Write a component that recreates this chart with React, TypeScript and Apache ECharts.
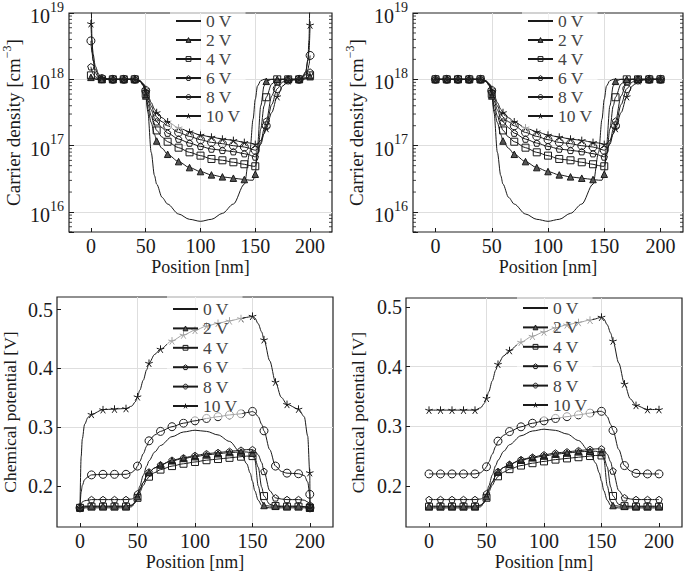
import React, { useEffect, useRef } from 'react';
import * as echarts from 'echarts';

const VOLTAGES = ['0 V', '2 V', '4 V', '6 V', '8 V', '10 V'];
const X_TICKS = [0, 50, 100, 150, 200];
const POT_TICKS = [0.2, 0.3, 0.4, 0.5];

// ---- Top-left: carrier density, log10 of cm^-3 ----
const TL_X = [0, 1, 2, 4, 7, 10, 20, 30, 40, 45, 48, 50, 52, 55, 58, 60, 65, 70, 80, 90, 100, 110, 120, 130, 140, 145, 148, 150, 152, 155, 158, 160, 165, 170, 175, 180, 190, 193, 196, 198, 199, 200];
const TL_0V = [19.6, 18.6, 18.3, 18.1, 18.03, 18.0, 18.0, 18.0, 18.0, 17.98, 17.93, 17.8, 17.5, 16.9, 16.55, 16.42, 16.22, 16.12, 15.97, 15.89, 15.86, 15.89, 15.98, 16.12, 16.42, 16.9, 17.4, 17.7, 17.9, 17.98, 18.0, 18.0, 18.0, 18.0, 18.0, 18.0, 18.0, 18.03, 18.1, 18.3, 18.6, 19.6];
const TL_2V = [18.03, 18.02, 18.01, 18.0, 18.0, 18.0, 18.0, 18.0, 18.0, 17.97, 17.9, 17.75, 17.55, 17.35, 17.17, 17.07, 16.96, 16.87, 16.76, 16.67, 16.61, 16.56, 16.53, 16.51, 16.49, 16.48, 16.48, 16.57, 17.0, 17.6, 17.9, 17.97, 18.0, 18.0, 18.0, 18.0, 18.0, 18.0, 18.01, 18.02, 18.03, 18.04];
const TL_4V = [18.06, 18.04, 18.02, 18.01, 18.0, 18.0, 18.0, 18.0, 18.0, 17.97, 17.9, 17.78, 17.62, 17.45, 17.3, 17.23, 17.13, 17.06, 16.97, 16.9, 16.85, 16.8, 16.78, 16.75, 16.72, 16.7, 16.69, 16.69, 16.85, 17.25, 17.6, 17.73, 17.93, 18.0, 18.0, 18.0, 18.0, 18.0, 18.01, 18.03, 18.04, 18.06];
const TL_6V = [18.19, 18.12, 18.08, 18.04, 18.01, 18.0, 18.0, 18.0, 18.0, 17.97, 17.91, 17.8, 17.68, 17.54, 17.42, 17.36, 17.27, 17.19, 17.1, 17.04, 16.99, 16.95, 16.93, 16.91, 16.88, 16.86, 16.84, 16.83, 16.88, 17.05, 17.25, 17.37, 17.75, 17.96, 18.0, 18.0, 18.0, 18.01, 18.03, 18.06, 18.09, 18.11];
const TL_8V = [18.58, 18.4, 18.28, 18.15, 18.06, 18.01, 18.0, 18.0, 18.0, 17.97, 17.92, 17.83, 17.73, 17.6, 17.49, 17.43, 17.36, 17.3, 17.2, 17.14, 17.09, 17.05, 17.03, 17.0, 16.98, 16.96, 16.94, 16.93, 16.95, 17.02, 17.18, 17.3, 17.62, 17.86, 17.96, 17.99, 18.0, 18.02, 18.07, 18.15, 18.22, 18.36];
const TL_10V = [18.84, 18.55, 18.38, 18.2, 18.08, 18.02, 18.0, 18.0, 18.0, 17.97, 17.93, 17.85, 17.77, 17.65, 17.55, 17.5, 17.42, 17.36, 17.27, 17.21, 17.16, 17.13, 17.1, 17.08, 17.05, 17.04, 17.03, 17.02, 17.03, 17.08, 17.18, 17.26, 17.5, 17.74, 17.9, 17.98, 18.0, 18.04, 18.12, 18.28, 18.42, 18.82];

// ---- Top-right: carrier density, log10 of cm^-3 ----
const TR_X = [0, 10, 20, 30, 40, 45, 48, 50, 52, 55, 58, 60, 65, 70, 80, 90, 100, 110, 120, 130, 140, 145, 148, 150, 152, 155, 158, 160, 165, 170, 175, 180, 190, 200];
const TR_0V = [18.0, 18.0, 18.0, 18.0, 18.0, 17.98, 17.93, 17.8, 17.5, 16.9, 16.55, 16.42, 16.22, 16.12, 15.97, 15.89, 15.86, 15.89, 15.98, 16.12, 16.42, 16.9, 17.4, 17.7, 17.9, 17.98, 18.0, 18.0, 18.0, 18.0, 18.0, 18.0, 18.0, 18.0];
const TR_2V = [18.0, 18.0, 18.0, 18.0, 18.0, 17.97, 17.9, 17.75, 17.55, 17.35, 17.17, 17.07, 16.96, 16.87, 16.76, 16.67, 16.61, 16.56, 16.53, 16.51, 16.49, 16.48, 16.48, 16.57, 17.0, 17.6, 17.9, 17.97, 18.0, 18.0, 18.0, 18.0, 18.0, 18.0];
const TR_4V = [18.0, 18.0, 18.0, 18.0, 18.0, 17.97, 17.9, 17.78, 17.62, 17.45, 17.3, 17.23, 17.13, 17.06, 16.97, 16.9, 16.85, 16.8, 16.78, 16.75, 16.72, 16.7, 16.69, 16.69, 16.85, 17.25, 17.6, 17.73, 17.93, 18.0, 18.0, 18.0, 18.0, 18.0];
const TR_6V = [18.0, 18.0, 18.0, 18.0, 18.0, 17.97, 17.91, 17.8, 17.68, 17.54, 17.42, 17.36, 17.27, 17.19, 17.1, 17.04, 16.99, 16.95, 16.93, 16.91, 16.88, 16.86, 16.84, 16.83, 16.88, 17.05, 17.25, 17.37, 17.75, 17.96, 18.0, 18.0, 18.0, 18.0];
const TR_8V = [18.0, 18.0, 18.0, 18.0, 18.0, 17.97, 17.92, 17.83, 17.73, 17.6, 17.49, 17.43, 17.36, 17.3, 17.2, 17.14, 17.09, 17.05, 17.03, 17.0, 16.98, 16.96, 16.94, 16.93, 16.95, 17.02, 17.18, 17.3, 17.62, 17.86, 17.96, 17.99, 18.0, 18.0];
const TR_10V = [18.0, 18.0, 18.0, 18.0, 18.0, 17.97, 17.93, 17.85, 17.77, 17.65, 17.55, 17.5, 17.42, 17.36, 17.27, 17.21, 17.16, 17.13, 17.1, 17.08, 17.05, 17.04, 17.03, 17.02, 17.03, 17.08, 17.18, 17.26, 17.5, 17.74, 17.9, 17.98, 18.0, 18.0];

// ---- Bottom-left: chemical potential [V] ----
const BL_X = [0, 1, 2, 4, 7, 10, 20, 30, 40, 45, 48, 50, 52, 55, 58, 60, 65, 70, 80, 90, 100, 110, 120, 130, 140, 145, 148, 150, 152, 155, 158, 160, 165, 170, 175, 180, 190, 195, 198, 199.8, 200];
const BL_0V = [0.163, 0.163, 0.163, 0.163, 0.163, 0.163, 0.163, 0.163, 0.163, 0.165, 0.172, 0.185, 0.2, 0.218, 0.234, 0.243, 0.258, 0.269, 0.284, 0.292, 0.295, 0.293, 0.287, 0.276, 0.256, 0.238, 0.222, 0.208, 0.192, 0.176, 0.167, 0.164, 0.163, 0.163, 0.163, 0.163, 0.163, 0.163, 0.163, 0.163, 0.163];
const BL_2V = [0.163, 0.164, 0.165, 0.166, 0.166, 0.166, 0.166, 0.166, 0.166, 0.168, 0.173, 0.182, 0.193, 0.206, 0.217, 0.223, 0.231, 0.236, 0.243, 0.247, 0.25, 0.253, 0.255, 0.257, 0.258, 0.258, 0.257, 0.256, 0.245, 0.2, 0.174, 0.167, 0.166, 0.166, 0.166, 0.166, 0.166, 0.165, 0.164, 0.163, 0.163];
const BL_4V = [0.163, 0.164, 0.164, 0.165, 0.165, 0.165, 0.165, 0.165, 0.165, 0.167, 0.172, 0.18, 0.19, 0.201, 0.211, 0.216, 0.223, 0.228, 0.234, 0.238, 0.241, 0.244, 0.246, 0.248, 0.25, 0.251, 0.251, 0.251, 0.248, 0.232, 0.198, 0.183, 0.169, 0.166, 0.165, 0.165, 0.165, 0.165, 0.164, 0.163, 0.163];
const BL_6V = [0.163, 0.17, 0.173, 0.175, 0.176, 0.177, 0.177, 0.177, 0.177, 0.178, 0.181, 0.187, 0.195, 0.206, 0.217, 0.224, 0.231, 0.236, 0.244, 0.248, 0.252, 0.255, 0.257, 0.259, 0.261, 0.262, 0.262, 0.262, 0.26, 0.253, 0.24, 0.225, 0.192, 0.18, 0.178, 0.177, 0.177, 0.176, 0.173, 0.168, 0.163];
const BL_8V = [0.163, 0.19, 0.201, 0.211, 0.216, 0.219, 0.22, 0.22, 0.22, 0.223, 0.228, 0.234, 0.242, 0.255, 0.268, 0.277, 0.287, 0.293, 0.301, 0.307, 0.311, 0.315, 0.318, 0.321, 0.323, 0.325, 0.326, 0.327, 0.325, 0.318, 0.305, 0.294, 0.262, 0.234, 0.225, 0.222, 0.221, 0.218, 0.207, 0.186, 0.163];
const BL_10V = [0.163, 0.25, 0.28, 0.305, 0.317, 0.322, 0.33, 0.331, 0.332, 0.336, 0.343, 0.352, 0.363, 0.38, 0.398, 0.409, 0.424, 0.433, 0.447, 0.457, 0.465, 0.472, 0.477, 0.481, 0.485, 0.487, 0.488, 0.489, 0.486, 0.476, 0.462, 0.449, 0.413, 0.377, 0.351, 0.339, 0.331, 0.318, 0.285, 0.223, 0.163];

// ---- Bottom-right: chemical potential [V] ----
const BR_X = [0, 10, 20, 30, 40, 45, 48, 50, 52, 55, 58, 60, 65, 70, 80, 90, 100, 110, 120, 130, 140, 145, 148, 150, 152, 155, 158, 160, 165, 170, 175, 180, 190, 200];
const BR_0V = [0.163, 0.163, 0.163, 0.163, 0.163, 0.165, 0.172, 0.185, 0.2, 0.218, 0.234, 0.243, 0.258, 0.269, 0.284, 0.292, 0.295, 0.293, 0.287, 0.276, 0.256, 0.238, 0.222, 0.208, 0.192, 0.176, 0.167, 0.164, 0.163, 0.163, 0.163, 0.163, 0.163, 0.163];
const BR_2V = [0.166, 0.166, 0.166, 0.166, 0.166, 0.168, 0.173, 0.182, 0.193, 0.206, 0.217, 0.223, 0.231, 0.236, 0.243, 0.247, 0.25, 0.253, 0.255, 0.257, 0.258, 0.258, 0.257, 0.256, 0.245, 0.2, 0.174, 0.167, 0.166, 0.166, 0.166, 0.166, 0.166, 0.166];
const BR_4V = [0.165, 0.165, 0.165, 0.165, 0.165, 0.167, 0.172, 0.18, 0.19, 0.201, 0.211, 0.216, 0.223, 0.228, 0.234, 0.238, 0.241, 0.244, 0.246, 0.248, 0.25, 0.251, 0.251, 0.251, 0.248, 0.232, 0.198, 0.183, 0.169, 0.166, 0.165, 0.165, 0.165, 0.165];
const BR_6V = [0.177, 0.177, 0.177, 0.177, 0.177, 0.178, 0.181, 0.187, 0.195, 0.206, 0.217, 0.224, 0.231, 0.236, 0.244, 0.248, 0.252, 0.255, 0.257, 0.259, 0.261, 0.262, 0.262, 0.262, 0.26, 0.253, 0.24, 0.225, 0.192, 0.18, 0.178, 0.177, 0.177, 0.177];
const BR_8V = [0.22, 0.22, 0.22, 0.22, 0.22, 0.222, 0.227, 0.232, 0.24, 0.253, 0.266, 0.275, 0.285, 0.291, 0.299, 0.305, 0.309, 0.313, 0.316, 0.319, 0.322, 0.324, 0.325, 0.325, 0.323, 0.316, 0.303, 0.293, 0.261, 0.234, 0.225, 0.221, 0.22, 0.22];
const BR_10V = [0.327, 0.327, 0.327, 0.327, 0.327, 0.331, 0.338, 0.347, 0.358, 0.376, 0.394, 0.404, 0.418, 0.427, 0.441, 0.451, 0.458, 0.465, 0.47, 0.474, 0.478, 0.48, 0.482, 0.483, 0.48, 0.47, 0.456, 0.443, 0.406, 0.371, 0.346, 0.335, 0.328, 0.328];

const FONT = 'Liberation Serif';
const INK = '#1a1a1a';
const CLEAR = 'rgba(0,0,0,0)';
const PENTAGON = 'path://M0,-10L9.51,-3.09L5.88,8.09L-5.88,8.09L-9.51,-3.09Z';
const STAR = 'path://M0,0L0,-10M0,0L9.51,-3.09M0,0L5.88,8.09M0,0L-5.88,8.09M0,0L-9.51,-3.09';

const MARKS: Record<string, { symbol: string; size: number; fill: string }> = {
  '0 V': { symbol: 'none', size: 0, fill: CLEAR },
  '2 V': { symbol: 'triangle', size: 6.5, fill: '#555' },
  '4 V': { symbol: 'rect', size: 7, fill: CLEAR },
  '6 V': { symbol: PENTAGON, size: 6.5, fill: CLEAR },
  '8 V': { symbol: 'circle', size: 8, fill: CLEAR },
  '10 V': { symbol: STAR, size: 7.5, fill: CLEAR },
};

function isMarkX(x: number) {
  return Math.abs(x / 10 - Math.round(x / 10)) < 0.03;
}

function makeLine(name: string, xs: number[], ys: number[], panel: number, log: boolean) {
  const m = MARKS[name];
  return {
    type: 'line', name, xAxisIndex: panel, yAxisIndex: panel,
    data: xs.map((x, i) => [x, log ? Math.pow(10, ys[i]) : ys[i]]),
    smooth: 0.3, smoothMonotone: 'x',
    symbol: m.symbol, showAllSymbol: true,
    symbolSize: (v: number[]) => (isMarkX(v[0]) ? m.size : 0),
    lineStyle: { color: INK, width: 1 },
    itemStyle: { color: m.fill, borderColor: INK, borderWidth: 1 },
    emphasis: { disabled: true }, silent: true, clip: true, z: 2,
  };
}

function minorTickSeries(panel: number) {
  const ticks: number[] = [];
  [15, 16, 17, 18].forEach((d) => {
    [2, 3, 4, 5, 6, 7, 8, 9].forEach((m) => {
      const v = m * Math.pow(10, d);
      if (v >= 5e15 && v < 1e19) ticks.push(v);
    });
  });
  return {
    type: 'custom', xAxisIndex: panel, yAxisIndex: panel, silent: true, clip: false, z: 3,
    data: ticks.map((v) => [-20, v]),
    encode: { x: 0, y: 1 },
    renderItem: (_p: any, api: any) => {
      const v = api.value(1);
      const a = api.coord([-20, v]);
      const b = api.coord([220, v]);
      return {
        type: 'group',
        children: [
          { type: 'line', shape: { x1: a[0], y1: a[1], x2: a[0] + 3, y2: a[1] }, style: { stroke: INK, lineWidth: 0.8 } },
          { type: 'line', shape: { x1: b[0] - 3, y1: b[1], x2: b[0], y2: b[1] }, style: { stroke: INK, lineWidth: 0.8 } },
        ],
      };
    },
  };
}

const TICK_FONT = 20;
const SPLIT = { show: true, showMinLine: false, showMaxLine: false, lineStyle: { color: '#dedede', width: 1 } };

function xAxis(gridIndex: number) {
  return {
    type: 'value', gridIndex, min: -20, max: 220, splitNumber: 5,
    axisLine: { show: false, onZero: false },
    axisTick: { show: true, inside: true, length: 4, lineStyle: { color: INK }, customValues: X_TICKS },
    axisLabel: { customValues: X_TICKS, fontFamily: FONT, fontSize: TICK_FONT, color: INK, margin: 4 },
    splitLine: SPLIT,
    name: 'Position [nm]', nameLocation: 'middle', nameGap: 26,
    nameTextStyle: { fontFamily: FONT, fontSize: 18, color: INK },
  };
}

function logYAxis(gridIndex: number, nameGap: number) {
  return {
    type: 'log', logBase: 10, gridIndex, min: 5e15, max: 1e19,
    axisLine: { show: false, onZero: false },
    axisTick: { show: true, inside: true, length: 5, lineStyle: { color: INK } },
    axisLabel: {
      fontFamily: FONT, color: INK, margin: 5,
      formatter: (val: number) => {
        const e = Math.log10(val);
        const r = Math.round(e);
        if (Math.abs(e - r) > 1e-6) return '';
        return '{b|10}{s|' + r + '}';
      },
      rich: {
        b: { fontFamily: FONT, fontSize: TICK_FONT, color: INK, lineHeight: 26, verticalAlign: 'bottom' },
        s: { fontFamily: FONT, fontSize: 14, color: INK, lineHeight: 14, verticalAlign: 'top' },
      },
    },
    splitLine: SPLIT,
    name: 'Carrier density [cm{s|−3}]', nameLocation: 'middle', nameGap,
    nameTextStyle: {
      fontFamily: FONT, fontSize: 19, color: INK, lineHeight: 24,
      rich: { s: { fontFamily: FONT, fontSize: 12, color: INK, lineHeight: 12, verticalAlign: 'top' } },
    },
  };
}

function potYAxis(gridIndex: number, min: number, max: number, nameGap: number) {
  return {
    type: 'value', gridIndex, min, max, splitNumber: 5,
    axisLine: { show: false, onZero: false },
    axisTick: { show: true, inside: true, length: 4, lineStyle: { color: INK }, customValues: POT_TICKS },
    axisLabel: {
      customValues: POT_TICKS, fontFamily: FONT, fontSize: TICK_FONT, color: INK, margin: 4,
      formatter: (v: number) => v.toFixed(1),
    },
    splitLine: SPLIT,
    name: 'Chemical potential [V]', nameLocation: 'middle', nameGap,
    nameTextStyle: { fontFamily: FONT, fontSize: 17.5, color: INK },
  };
}

function legend(left: number, top: number, gap: number) {
  return {
    data: VOLTAGES.map((n) =>
      n === '0 V'
        ? { name: n, itemStyle: { opacity: 0 } }
        : { name: n, itemStyle: { color: MARKS[n].fill, borderColor: INK, borderWidth: 1 } }
    ),
    orient: 'vertical', left, top,
    itemWidth: 25, itemHeight: 6, itemGap: gap,
    padding: [4, 5, 4, 5], selectedMode: false,
    backgroundColor: 'rgba(255,255,255,0.6)',
    textStyle: { fontFamily: FONT, fontSize: 17.5, color: '#444', lineHeight: 18 },
  };
}

function buildOption() {
  const grid = (left: number, top: number, width: number, height: number) => ({
    left, top, width, height, show: true, borderColor: '#222', borderWidth: 1.2,
    backgroundColor: 'transparent', containLabel: false,
  });
  const panels: Array<{ xs: number[]; ys: number[][]; log: boolean }> = [
    { xs: TL_X, ys: [TL_0V, TL_2V, TL_4V, TL_6V, TL_8V, TL_10V], log: true },
    { xs: TR_X, ys: [TR_0V, TR_2V, TR_4V, TR_6V, TR_8V, TR_10V], log: true },
    { xs: BL_X, ys: [BL_0V, BL_2V, BL_4V, BL_6V, BL_8V, BL_10V], log: false },
    { xs: BR_X, ys: [BR_0V, BR_2V, BR_4V, BR_6V, BR_8V, BR_10V], log: false },
  ];
  const series: any[] = [];
  panels.forEach((p, pi) => {
    p.ys.forEach((ys, si) => series.push(makeLine(VOLTAGES[si], p.xs, ys, pi, p.log)));
  });
  series.push(minorTickSeries(0));
  series.push(minorTickSeries(1));
  return {
    animation: false,
    backgroundColor: '#fff',
    grid: [grid(62, 7, 270, 225), grid(413, 7, 270, 225), grid(55, 297, 278, 230), grid(406, 298, 276, 229)],
    xAxis: [xAxis(0), xAxis(1), xAxis(2), xAxis(3)],
    yAxis: [logYAxis(0, 44), logYAxis(1, 45), potYAxis(2, 0.1304, 0.5216, 38), potYAxis(3, 0.131, 0.515, 39)],
    legend: [legend(170, 8, 1), legend(522, 8, 1), legend(167, 296, 1.4), legend(517, 295, 1.4)],
    series,
  };
}

export default function App() {
  const ref = useRef<HTMLDivElement>(null);
  useEffect(() => {
    if (!ref.current) return;
    const chart = echarts.init(ref.current, undefined, { renderer: 'svg' });
    chart.setOption(buildOption() as any);
    return () => chart.dispose();
  }, []);
  return <div ref={ref} style={{ position: 'absolute', left: 0, top: 0, width: 685, height: 572 }} />;
}
